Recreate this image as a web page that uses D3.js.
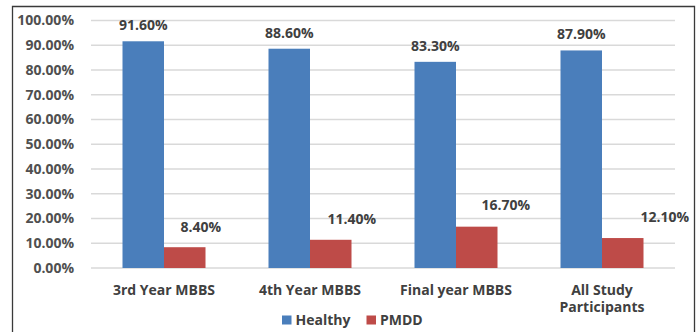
<!DOCTYPE html>
<html>
<head>
<meta charset="utf-8">
<script src="https://cdn.jsdelivr.net/npm/d3@7"></script>
<style>
  html, body { margin: 0; padding: 0; background: #fff; }
  svg { display: block; }
  text { font-family: "Open Sans", "DejaVu Sans", sans-serif; font-weight: bold; }
</style>
</head>
<body>
<svg id="chart" width="698" height="332"></svg>
<script>
// Share of students in each group
const categories = ["3rd Year MBBS", "4th Year MBBS", "Final year MBBS", "All Study Participants"];
const seriesNames = ["Healthy", "PMDD"];
const healthy = [91.6, 88.6, 83.3, 87.9];
const pmdd = [8.4, 11.4, 16.7, 12.1];
const yTicks = [0, 10, 20, 30, 40, 50, 60, 70, 80, 90, 100];

const colors = { Healthy: "#4a7ebb", PMDD: "#be4b48" };
const textColor = "#404040";

const svg = d3.select("#chart");
const W = 698, H = 332;
const plot = { left: 91, right: 675, top: 20.5, bottom: 268 };

// outer frame (open at the bottom edge)
svg.append("path")
  .attr("d", `M12.5,${H} L12.5,6.5 L694.5,6.5 L694.5,${H}`)
  .attr("fill", "none")
  .attr("stroke", "#3a3a3a")
  .attr("stroke-width", 1.3);

const x0 = d3.scaleBand()
  .domain(categories)
  .range([plot.left, plot.right])
  .paddingInner(0)
  .paddingOuter(0);

const groupWidth = 83;
const x1 = d3.scaleBand()
  .domain(seriesNames)
  .range([0, groupWidth])
  .padding(0);

const y = d3.scaleLinear().domain([0, 100]).range([plot.bottom, plot.top]);

// gridlines
svg.append("g")
  .selectAll("line")
  .data(yTicks)
  .join("line")
  .attr("x1", plot.left)
  .attr("x2", plot.right)
  .attr("y1", d => y(d))
  .attr("y2", d => y(d))
  .attr("stroke", "#d9d9d9")
  .attr("stroke-width", 1.4);

// y axis labels
const yAxis = d3.axisLeft(y)
  .tickValues(yTicks)
  .tickSize(0)
  .tickPadding(0)
  .tickFormat(d => d.toFixed(2) + "%");
const yG = svg.append("g")
  .attr("transform", `translate(74,0)`)
  .call(yAxis);
yG.select(".domain").remove();
yG.selectAll("text")
  .attr("font-size", 14)
  .attr("fill", "#505050")
  .style("font-family", "\"Open Sans\", sans-serif")
  .style("font-weight", "bold");

// bars
const rows = categories.map((c, i) => ({
  category: c,
  values: [
    { series: "Healthy", value: healthy[i] },
    { series: "PMDD", value: pmdd[i] }
  ]
}));

const groups = svg.append("g")
  .selectAll("g")
  .data(rows)
  .join("g")
  .attr("transform", d => `translate(${x0(d.category) + (x0.bandwidth() - groupWidth) / 2},0)`);

groups.selectAll("rect")
  .data(d => d.values)
  .join("rect")
  .attr("x", d => x1(d.series))
  .attr("width", x1.bandwidth())
  .attr("y", d => y(d.value))
  .attr("height", d => y(0) - y(d.value))
  .attr("fill", d => colors[d.series]);

// value labels; PMDD labels sit up and to the right of their bars
const pmddNudge = [{ dx: 16, dy: -15 }, { dx: 21, dy: -15.5 }, { dx: 29, dy: -16.5 }, { dx: 42, dy: -16.5 }];

groups.each(function (d, i) {
  const g = d3.select(this);
  d.values.forEach(v => {
    const cx = x1(v.series) + x1.bandwidth() / 2;
    const nudge = v.series === "PMDD" ? pmddNudge[i] : { dx: 0, dy: -11 };
    g.append("text")
      .attr("x", cx + nudge.dx)
      .attr("y", y(v.value) + nudge.dy)
      .attr("text-anchor", "middle")
      .attr("font-size", 14)
      .attr("fill", textColor)
      .text(v.value.toFixed(2) + "%");
  });
});

// category labels
const xAxis = d3.axisBottom(x0).tickSize(0).tickPadding(0);
const xG = svg.append("g")
  .attr("transform", `translate(0,${plot.bottom})`)
  .call(xAxis);
xG.select(".domain").remove();
xG.selectAll(".tick text").remove();
xG.selectAll(".tick").each(function (d) {
  const words = d === "All Study Participants" ? ["All Study", "Participants"] : [d];
  const t = d3.select(this).append("text")
    .attr("text-anchor", "middle")
    .attr("font-size", 14)
    .attr("fill", textColor);
  words.forEach((w, k) => {
    t.append("tspan").attr("x", 0).attr("y", 27 + k * 16.5).text(w);
  });
});

// legend
const legend = svg.append("g").attr("transform", "translate(282,0)");
const legendItems = [
  { name: "Healthy", x: 0 },
  { name: "PMDD", x: 84.5 }
];
legendItems.forEach(it => {
  legend.append("rect")
    .attr("x", it.x)
    .attr("y", 315.5)
    .attr("width", 9.5)
    .attr("height", 9)
    .attr("fill", colors[it.name]);
  legend.append("text")
    .attr("x", it.x + 13.5)
    .attr("y", 325)
    .attr("font-size", 14)
    .attr("fill", textColor)
    .text(it.name);
});
</script>
</body>
</html>
